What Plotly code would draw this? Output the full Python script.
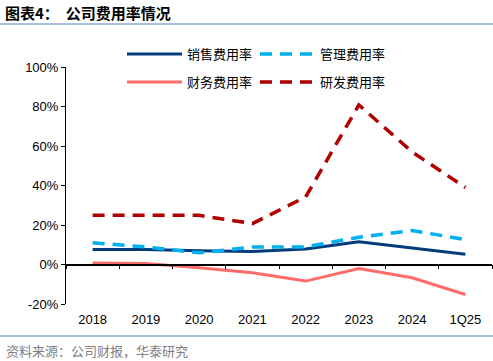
import plotly.graph_objects as go

categories = ["2018", "2019", "2020", "2021", "2022", "2023", "2024", "1Q25"]
sales_rate = [7.6, 7.6, 6.9, 6.6, 7.9, 11.5, 8.4, 5.2]
admin_rate = [11.0, 8.9, 5.9, 8.8, 8.9, 13.8, 17.2, 12.6]
finance_rate = [0.8, 0.5, -1.7, -4.2, -8.4, -2.0, -6.7, -15.2]
rd_rate = [24.9, 24.9, 24.9, 20.7, 34.2, 80.8, 57.0, 39.0]
y_ticks = [-20, 0, 20, 40, 60, 80, 100]
y_tick_labels = [f"{v}%" for v in y_ticks]

CJK = "Noto Sans CJK SC"
LAT = "Liberation Sans, Arial, sans-serif"

L, R, T, B = 66, 1, 67, 57
PW, PH = 493 - L - R, 361 - T - B


def px_x(px):
    return (px - L) / PW


def px_y(py):
    return (361 - B - py) / PH


fig = go.Figure()
fig.add_trace(go.Scatter(x=categories, y=sales_rate, name="销售费用率", mode="lines",
                         line=dict(color="#023C7C", width=3), legend="legend"))
fig.add_trace(go.Scatter(x=categories, y=admin_rate, name="管理费用率", mode="lines",
                         line=dict(color="#00B0F0", width=3.5, dash="12px,8px"), legend="legend2"))
fig.add_trace(go.Scatter(x=categories, y=finance_rate, name="财务费用率", mode="lines",
                         line=dict(color="#FF6B6B", width=3), legend="legend3"))
fig.add_trace(go.Scatter(x=categories, y=rd_rate, name="研发费用率", mode="lines",
                         line=dict(color="#B00000", width=3.5, dash="12px,8px"), legend="legend4"))
# helper trace carrying the category axis drawn along the zero line
fig.add_trace(go.Scatter(x=categories, y=sales_rate, xaxis="x2", mode="lines",
                         line=dict(color="rgba(0,0,0,0)"), showlegend=False, hoverinfo="skip"))


def leg(xpx, ypx):
    return dict(orientation="h", xanchor="left", yanchor="middle",
                x=px_x(xpx), y=px_y(ypx),
                font=dict(family=CJK, size=13, color="#000000"),
                bgcolor="rgba(0,0,0,0)", itemwidth=55, borderwidth=0)


fig.update_layout(
    width=493, height=361,
    margin=dict(l=L, r=R, t=T, b=B, autoexpand=False),
    paper_bgcolor="white", plot_bgcolor="white",
    showlegend=True,
    legend=leg(122, 54),
    legend2=leg(255, 54),
    legend3=leg(122, 82),
    legend4=leg(255, 82),
    xaxis=dict(type="category", categoryarray=categories, range=[-0.5, 7.5],
               showline=False, ticks="", showgrid=False, zeroline=False,
               tickfont=dict(family=LAT, size=13, color="#000000"), ticklabelstandoff=6),
    xaxis2=dict(type="category", categoryarray=categories, range=[-0.5, 7.5],
                overlaying="x", anchor="free", position=20 / 120,
                showline=True, linecolor="#000000", linewidth=1.5,
                ticks="outside", ticklen=4, tickcolor="#000000", tickwidth=1,
                tickson="boundaries", showticklabels=False, showgrid=False),
    yaxis=dict(range=[-20, 100], tickvals=y_ticks, ticktext=y_tick_labels,
               showline=True, linecolor="#000000", linewidth=1,
               ticks="outside", ticklen=4, tickcolor="#000000",
               showgrid=False, zeroline=False,
               tickfont=dict(family=LAT, size=13, color="#000000")),
)

fig.add_annotation(x=px_x(3), y=px_y(13), xref="paper", yref="paper",
                   text="<b>图表4：  公司费用率情况</b>",
                   showarrow=False, xanchor="left", yanchor="middle",
                   font=dict(family=CJK, size=15, color="#000000"))
fig.add_annotation(x=px_x(4), y=px_y(350), xref="paper", yref="paper",
                   text="资料来源：公司财报，华泰研究", showarrow=False,
                   xanchor="left", yanchor="middle",
                   font=dict(family=CJK, size=13, color="#7F7F7F"))

fig.add_shape(type="line", xref="paper", yref="paper", x0=px_x(0), x1=px_x(493),
              y0=px_y(24), y1=px_y(24), line=dict(color="#8FAADC", width=1.5))
fig.add_shape(type="line", xref="paper", yref="paper", x0=px_x(0), x1=px_x(493),
              y0=px_y(336), y1=px_y(336), line=dict(color="#8FAADC", width=1.5))

fig.write_html("out.html", config={"displayModeBar": False},
               post_script="document.body.style.margin='0';document.body.style.padding='0';")
